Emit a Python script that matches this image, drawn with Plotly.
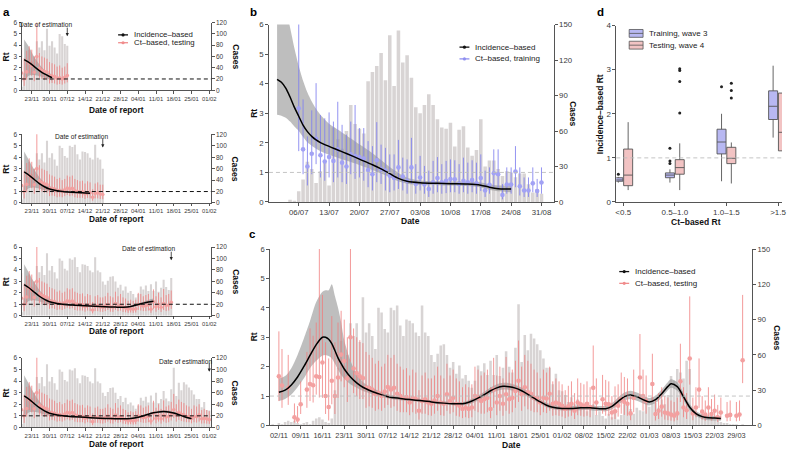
import numpy as np
import pandas as pd
import plotly.graph_objects as go

W, H = 787, 454
FONT = "Liberation Sans, Arial, Helvetica, sans-serif"
AXC = "#2b2b2b"
TICKC = "#3a3a3a"
BAR = "#D8D4D4"
RIB = "rgba(150,150,150,0.62)"
RED_L = "rgba(240,125,125,0.78)"
RED_P = "#F3A0A0"
BLUE_L = "rgba(128,128,238,0.85)"
BLUE_P = "#A2A2F4"

# ======================= DATA =======================
# --- panel c / a : daily cases (from 2020-10-31)
c_cases_start = "2020-10-31"
c_cases = [1,
           0, 2, 1, 3, 4, 3, 4, 2, 1, 2, 3, 1, 4, 6, 7, 5, 3, 2, 6,
           30, 49, 72, 51, 60, 87, 76, 87, 71, 109, 79,
           87, 76, 65, 100, 96, 82, 79, 100, 98, 102, 85, 76, 90, 89, 87, 79, 76, 102, 79, 76,
           60, 54, 61, 68, 69, 60, 49, 54, 44, 51, 40,
           43, 38, 32, 38, 51, 46, 53, 43, 55, 43, 60, 42, 49, 63, 50, 45, 66, 103, 54, 77,
           64, 78, 74, 69, 64, 57, 49, 49, 35, 44, 30,
           29, 26, 20, 24, 18, 22, 19, 15, 12, 16, 18, 9, 12, 8, 6, 10, 7, 12, 5, 9,
           18, 20, 14, 10, 15, 13, 12, 20,
           16, 24, 19, 15, 22, 18, 26, 42, 38, 48, 45, 40, 55, 48, 12, 10, 8, 9, 7, 6,
           8, 5, 4, 3, 2, 2, 1, 1, 1, 0, 1]

# --- panel c / a : Ct-based Rt, testing (daily from 2020-11-02)
c_ct_start = "2020-11-02"
c_ct_rt = [1.67, 1.36, None, 1.28, None, 0.28, 0.2, 0.72, None, 1.22,
           1.41, 1.37, 1.67, 1.65, 2.14, 1.0, 0.63, 1.52, 1.0, 1.63,
           2.41, 2.19, 1.6, 3.0, 1.94, 1.78, 1.67, 1.61, 1.28, 1.28,
           1.22, 1.06, 1.11, 1.0, 1.15, 1.31, 1.22, 1.28, 1.08, 1.0,
           0.94, 0.97, 0.78, 0.94, 0.9, 0.5, 0.83, 0.89, 0.78, 0.74,
           0.85, 1.0, 0.78, 0.74, 1.06, 0.83, 0.94, 0.74, 0.67, 0.56,
           0.61, 0.56, 0.61, 1.0, 0.94, 0.83, 0.89, 0.94, 0.56, 1.22,
           0.78, 1.0, 0.74, 1.06, 0.89, 0.94, 1.17, 1.52, 1.06, 1.3,
           1.14, 1.08, 0.94, 0.94, 0.78, 0.94, 0.92, 1.08, 0.74, 0.78,
           0.74, 0.67, 0.56, 0.65, 0.74, 0.5, 0.78, 0.72, 0.67, 0.74,
           0.63, 1.28, 0.78, None, 0.89, 0.74, 0.72, 0.44, 0.48, 0.67,
           0.89, 0.8, 0.74, 0.41, 0.94, None, 1.63, 1.0, 0.83, None,
           1.41, 0.39, 0.5, 0.64, 0.44, 0.41, 0.37, 0.33, 0.41, 1.5,
           0.61, 0.52, 2.28, 0.41, 0.61, 1.22, 0.47, 0.37, 0.61, 0.39,
           0.5, 0.28, 0.44, None, 0.33, 0.36, None, 0.33, 0.37, 2.22]
c_ct_lo = [0.83, 0.6, None, 0.7, None, 0.1, 0.08, 0.39, None, 0.6,
           0.83, 0.78, 1.05, 0.95, 0.94, 0.39, 0.17, 0.72, 0.39, 0.94,
           1.5, 1.3, 0.8, 2.17, 1.1, 1.0, 0.9, 0.9, 0.6, 0.65,
           0.6, 0.5, 0.55, 0.5, 0.6, 0.7, 0.6, 0.65, 0.5, 0.45,
           0.45, 0.45, 0.35, 0.45, 0.4, 0.2, 0.4, 0.4, 0.35, 0.33,
           0.4, 0.5, 0.35, 0.33, 0.5, 0.4, 0.45, 0.33, 0.3, 0.25,
           0.28, 0.25, 0.28, 0.5, 0.45, 0.4, 0.4, 0.45, 0.25, 0.6,
           0.35, 0.5, 0.33, 0.5, 0.4, 0.45, 0.6, 0.8, 0.5, 0.65,
           0.55, 0.5, 0.45, 0.45, 0.35, 0.45, 0.42, 0.5, 0.33, 0.35,
           0.33, 0.3, 0.25, 0.3, 0.33, 0.22, 0.35, 0.33, 0.3, 0.33,
           0.28, 0.6, 0.35, None, 0.4, 0.33, 0.33, 0.2, 0.22, 0.3,
           0.4, 0.36, 0.33, 0.18, 0.45, None, 0.9, 0.5, 0.4, None,
           0.8, 0.17, 0.22, 0.3, 0.2, 0.18, 0.16, 0.14, 0.18, 0.8,
           0.28, 0.22, 1.39, 0.18, 0.28, 0.6, 0.2, 0.16, 0.28, 0.17,
           0.22, 0.12, 0.2, None, 0.14, 0.15, None, 0.14, 0.16, 1.44]
c_ct_hi = [3.2, 2.6, None, 2.4, None, 0.75, 0.66, 1.5, None, 2.5,
           3.3, 3.05, 3.5, 6.5, 4.44, 2.83, 2.28, 3.72, 2.83, 3.5,
           3.9, 3.6, 3.0, 6.5, 3.3, 3.0, 2.9, 2.8, 2.5, 2.4,
           2.3, 2.1, 2.2, 2.0, 2.1, 2.4, 2.3, 2.4, 2.1, 2.0,
           1.9, 1.95, 1.7, 1.9, 1.8, 1.2, 1.7, 1.8, 1.6, 1.6,
           1.7, 2.0, 1.7, 1.6, 2.1, 1.7, 1.9, 1.6, 1.5, 1.3,
           1.4, 1.3, 1.4, 2.0, 1.9, 1.7, 1.8, 1.9, 1.3, 2.3,
           1.7, 2.0, 1.6, 2.33, 1.8, 1.9, 2.2, 2.89, 2.0, 2.4,
           2.2, 2.1, 1.9, 1.8, 1.6, 1.9, 1.8, 2.0, 1.5, 1.6,
           1.5, 1.4, 1.2, 1.35, 1.5, 1.1, 1.6, 1.45, 1.4, 1.5,
           1.3, 2.72, 1.6, None, 1.72, 1.55, 1.5, 1.0, 1.33, 1.4,
           1.8, 1.65, 1.6, 1.0, 1.9, None, 3.11, 1.9, 1.7, None,
           2.44, 0.9, 1.1, 1.3, 1.0, 0.95, 0.85, 0.8, 0.95, 2.78,
           1.3, 1.1, 4.39, 0.95, 1.3, 2.28, 1.0, 0.85, 1.3, 0.9,
           1.05, 0.7, 0.95, None, 0.8, 0.85, None, 0.8, 0.85, 4.44]

# --- panel c : incidence-based Rt (final)
c_inc_dates = ["2020-11-02", "2020-11-04", "2020-11-06", "2020-11-08", "2020-11-10", "2020-11-12",
               "2020-11-14", "2020-11-16", "2020-11-17", "2020-11-18", "2020-11-19", "2020-11-20",
               "2020-11-21", "2020-11-22", "2020-11-23", "2020-11-25", "2020-11-27", "2020-11-29",
               "2020-12-01", "2020-12-04", "2020-12-07", "2020-12-11", "2020-12-14", "2020-12-18",
               "2020-12-21", "2020-12-25", "2020-12-28", "2020-12-31",
               "2021-01-02", "2021-01-04", "2021-01-07", "2021-01-09", "2021-01-11", "2021-01-13",
               "2021-01-15", "2021-01-17", "2021-01-19", "2021-01-21", "2021-01-23", "2021-01-25",
               "2021-01-27", "2021-01-29",
               "2021-02-01", "2021-02-04", "2021-02-07", "2021-02-10", "2021-02-13", "2021-02-15",
               "2021-02-17", "2021-02-19", "2021-02-21", "2021-02-23", "2021-02-25", "2021-02-27",
               "2021-03-01", "2021-03-03", "2021-03-05", "2021-03-07", "2021-03-08", "2021-03-10",
               "2021-03-12", "2021-03-14", "2021-03-16", "2021-03-18", "2021-03-20", "2021-03-22",
               "2021-03-24"]
c_inc_rt = [1.13, 1.2, 1.38, 1.65, 2.0, 2.38, 2.75, 3.0, 3.0, 2.93, 2.78, 2.55, 2.3, 2.1, 1.92, 1.65, 1.45, 1.3,
            1.2, 1.08, 0.98, 0.92, 0.88, 0.84, 0.8, 0.76, 0.74, 0.74,
            0.79, 0.88, 1.05, 1.18, 1.28, 1.33, 1.32, 1.27, 1.18, 1.06, 0.93, 0.8, 0.69, 0.62,
            0.58, 0.58, 0.6, 0.6, 0.57, 0.57, 0.65, 0.82, 0.98, 1.04, 0.98, 0.88,
            0.8, 0.88, 1.08, 1.33, 1.42, 1.32, 0.98, 0.62, 0.4, 0.3, 0.26, 0.25, 0.24]
c_inc_lo = [0.83, 0.9, 1.05, 1.3, 1.6, 1.95, 2.2, 2.38, 2.4, 2.36, 2.28, 2.1, 1.9, 1.72, 1.6, 1.4, 1.28, 1.17,
            1.1, 1.0, 0.92, 0.86, 0.83, 0.79, 0.75, 0.71, 0.69, 0.68,
            0.72, 0.8, 0.96, 1.08, 1.17, 1.22, 1.21, 1.16, 1.08, 0.97, 0.85, 0.73, 0.62, 0.55,
            0.51, 0.51, 0.52, 0.52, 0.49, 0.48, 0.55, 0.7, 0.85, 0.9, 0.84, 0.75,
            0.68, 0.76, 0.95, 1.2, 1.28, 1.18, 0.86, 0.52, 0.32, 0.22, 0.18, 0.17, 0.16]
c_inc_hi = [1.6, 1.68, 1.95, 2.4, 2.95, 3.55, 4.2, 4.55, 4.6, 4.6, 4.8, 4.4, 4.0, 3.5, 2.9, 2.2, 1.75, 1.48,
            1.33, 1.18, 1.06, 0.98, 0.94, 0.9, 0.86, 0.82, 0.8, 0.8,
            0.86, 0.96, 1.15, 1.29, 1.4, 1.45, 1.44, 1.38, 1.29, 1.16, 1.02, 0.88, 0.77, 0.7,
            0.66, 0.66, 0.68, 0.68, 0.66, 0.67, 0.76, 0.95, 1.12, 1.18, 1.12, 1.02,
            0.93, 1.01, 1.22, 1.48, 1.57, 1.47, 1.11, 0.73, 0.49, 0.38, 0.34, 0.33, 0.32]

# --- panel a : real-time incidence-based Rt at four dates of estimation
a_est_dates = ["2020-12-07", "2020-12-21", "2021-01-17", "2021-02-01"]
a1_dates = ["2020-11-20", "2020-11-22", "2020-11-24", "2020-11-26", "2020-11-28", "2020-11-30", "2020-12-01"]
a1_rt = [2.72, 2.45, 2.1, 1.75, 1.45, 1.22, 1.12]
a1_lo = [0.9, 1.3, 1.35, 1.25, 1.1, 0.95, 0.85]
a1_hi = [4.5, 3.8, 2.95, 2.3, 1.8, 1.5, 1.42]
a2_dates = ["2020-11-20", "2020-11-22", "2020-11-24", "2020-11-26", "2020-11-28", "2020-11-30",
            "2020-12-03", "2020-12-06", "2020-12-09", "2020-12-12", "2020-12-14", "2020-12-16"]
a2_rt = [2.72, 2.42, 2.05, 1.7, 1.42, 1.22, 1.07, 0.98, 0.93, 0.9, 0.88, 0.86]
a2_lo = [0.9, 1.3, 1.35, 1.25, 1.12, 1.0, 0.93, 0.87, 0.83, 0.8, 0.77, 0.74]
a2_hi = [4.5, 3.7, 2.9, 2.25, 1.78, 1.48, 1.24, 1.11, 1.05, 1.02, 1.01, 1.0]
a3_dates = ["2020-11-20", "2020-11-22", "2020-11-24", "2020-11-26", "2020-11-28", "2020-11-30",
            "2020-12-03", "2020-12-06", "2020-12-10", "2020-12-14", "2020-12-18", "2020-12-22",
            "2020-12-26", "2020-12-29", "2021-01-01", "2021-01-04", "2021-01-06", "2021-01-08", "2021-01-10"]
a3_rt = [2.72, 2.42, 2.05, 1.7, 1.42, 1.22, 1.07, 0.98, 0.92, 0.87, 0.82, 0.78, 0.75, 0.74, 0.8, 0.98, 1.1, 1.2, 1.27]
a3_lo = [0.9, 1.3, 1.35, 1.25, 1.12, 1.0, 0.95, 0.89, 0.84, 0.8, 0.76, 0.72, 0.69, 0.68, 0.73, 0.89, 0.98, 1.04, 1.06]
a3_hi = [4.5, 3.7, 2.9, 2.25, 1.78, 1.48, 1.2, 1.08, 1.0, 0.94, 0.89, 0.85, 0.82, 0.81, 0.88, 1.08, 1.23, 1.38, 1.5]
a4_dates = ["2020-11-20", "2020-11-22", "2020-11-24", "2020-11-26", "2020-11-28", "2020-11-30",
            "2020-12-03", "2020-12-06", "2020-12-10", "2020-12-14", "2020-12-18", "2020-12-22",
            "2020-12-26", "2020-12-29", "2021-01-01", "2021-01-04", "2021-01-06", "2021-01-08",
            "2021-01-10", "2021-01-12", "2021-01-14", "2021-01-16", "2021-01-18", "2021-01-20",
            "2021-01-22", "2021-01-24", "2021-01-25"]
a4_rt = [2.72, 2.42, 2.05, 1.7, 1.42, 1.22, 1.07, 0.98, 0.92, 0.87, 0.82, 0.78, 0.75, 0.74, 0.77, 0.88, 1.0,
         1.14, 1.26, 1.34, 1.37, 1.34, 1.24, 1.1, 0.95, 0.82, 0.76]
a4_lo = [0.9, 1.3, 1.35, 1.25, 1.12, 1.0, 0.95, 0.89, 0.84, 0.8, 0.76, 0.72, 0.69, 0.68, 0.7, 0.8, 0.92,
         1.05, 1.16, 1.23, 1.26, 1.22, 1.12, 0.98, 0.83, 0.69, 0.62]
a4_hi = [4.5, 3.7, 2.9, 2.25, 1.78, 1.48, 1.2, 1.08, 1.0, 0.94, 0.89, 0.85, 0.82, 0.81, 0.84, 0.96, 1.08,
         1.23, 1.36, 1.45, 1.48, 1.46, 1.36, 1.22, 1.08, 0.96, 0.91]

# --- panel b : wave 3 (training)
b_cases_start = "2020-07-01"
b_cases = [0, 0, 0, 2, 1, 9, 19, 34, 28, 16,
           26, 33, 14, 63, 53, 45, 60, 82, 66, 62,
           58, 102, 110, 115, 126, 103, 141, 98, 145, 118,
           124, 105, 80, 75, 82, 91, 82, 70, 63, 62,
           67, 47, 61, 64, 46, 39, 44, 70, 30, 35,
           35, 28, 22, 26, 25, 21, 24, 24, 15, 8,
           11, 7]
b_ct_start = "2020-07-06"
b_ct_rt = [3.17, 1.78, 1.2, 1.63, 2.14, 1.58, 1.37, 1.52, 1.39, 1.78,
           1.33, 1.2, 1.61, 1.55, 1.52, 1.47, 1.08, 0.94, 1.41, 1.11,
           1.06, 0.89, 0.81, 1.17, 0.86, 0.72, 1.17, 0.61, 0.83, 0.59,
           0.44, 0.67, 0.81, 0.67, 0.72, 0.78, 0.77, 0.61, 0.72, 0.67,
           0.74, 0.63, 0.81, 0.39, 0.58, 0.97, 0.94, 0.24, 0.59, 0.59,
           1.03, 0.53, 0.39, 0.39, 0.63, 0.37, 0.66]
b_ct_lo = [1.72, 0.94, 0.56, 0.94, 1.28, 0.83, 0.72, 0.83, 0.67, 0.83,
           0.67, 0.61, 0.94, 0.78, 0.83, 0.72, 0.5, 0.39, 0.67, 0.61,
           0.39, 0.33, 0.39, 0.44, 0.39, 0.28, 0.61, 0.28, 0.39, 0.28,
           0.17, 0.28, 0.33, 0.28, 0.3, 0.33, 0.33, 0.28, 0.33, 0.28,
           0.33, 0.28, 0.37, 0.17, 0.28, 0.5, 0.44, 0.09, 0.28, 0.28,
           0.5, 0.22, 0.17, 0.17, 0.33, 0.17, 0.28]
b_ct_hi = [6.5, 3.47, 2.22, 3.1, 4.02, 2.94, 2.83, 3.03, 2.72, 3.39,
           2.61, 2.28, 2.72, 3.28, 2.5, 2.5, 2.06, 1.89, 2.7, 1.94,
           1.83, 1.61, 1.61, 2.1, 1.5, 1.44, 2.17, 1.28, 1.56, 1.22,
           1.06, 1.39, 1.52, 1.28, 1.39, 1.44, 1.41, 1.28, 1.5, 1.33,
           1.41, 1.33, 1.61, 1.06, 1.17, 1.78, 1.78, 0.61, 1.17, 1.17,
           1.89, 1.17, 0.83, 0.83, 1.17, 0.78, 1.17]
b_inc_dates = ["2020-07-01", "2020-07-02", "2020-07-03", "2020-07-04", "2020-07-05", "2020-07-06",
               "2020-07-07", "2020-07-08", "2020-07-09", "2020-07-10", "2020-07-11", "2020-07-13",
               "2020-07-15", "2020-07-17", "2020-07-20", "2020-07-23", "2020-07-25", "2020-07-27",
               "2020-07-29", "2020-07-31", "2020-08-03", "2020-08-07", "2020-08-10", "2020-08-14",
               "2020-08-17", "2020-08-19", "2020-08-21", "2020-08-23", "2020-08-24"]
b_inc_rt = [4.15, 4.05, 3.85, 3.55, 3.2, 2.9, 2.6, 2.38, 2.22, 2.1, 2.01, 1.88, 1.76, 1.64, 1.45,
            1.26, 1.12, 0.96, 0.8, 0.7, 0.65, 0.63, 0.62, 0.61, 0.57, 0.5, 0.45, 0.44, 0.44]
b_inc_lo = [2.95, 2.92, 2.85, 2.72, 2.55, 2.4, 2.2, 2.02, 1.9, 1.8, 1.72, 1.6, 1.5, 1.4, 1.25,
            1.08, 0.96, 0.84, 0.7, 0.62, 0.58, 0.57, 0.56, 0.54, 0.49, 0.41, 0.36, 0.34, 0.33]
b_inc_hi = [7.0, 6.9, 6.5, 5.9, 5.2, 4.6, 4.1, 3.7, 3.4, 3.15, 2.95, 2.65, 2.45, 2.25, 1.95,
            1.65, 1.42, 1.18, 0.98, 0.82, 0.73, 0.7, 0.69, 0.69, 0.66, 0.6, 0.56, 0.56, 0.57]

# --- panel d : boxplots (sample points per box; only those outside the whiskers are drawn)
d_categories = ["<0.5", "0.5–1.0", "1.0–1.5", ">1.5"]
d_train_q1 = [0.47, 0.55, 1.09, 1.87]
d_train_med = [0.50, 0.61, 1.36, 2.17]
d_train_q3 = [0.55, 0.66, 1.65, 2.52]
d_train_lo = [0.44, 0.44, 0.47, 1.46]
d_train_hi = [0.57, 0.74, 2.0, 3.09]
d_train_pts = [[0.50, 0.63], [0.61, 0.87, 0.93, 1.22], [1.36, 2.61], [2.17]]
d_test_q1 = [0.37, 0.63, 0.87, 1.16]
d_test_med = [0.61, 0.78, 0.99, 1.58]
d_test_q3 = [1.2, 0.96, 1.24, 2.47]
d_test_lo = [0.27, 0.27, 0.42, 0.72]
d_test_hi = [1.81, 1.33, 1.35, 2.95]
d_test_pts = [[0.61], [0.78, 2.02, 2.73, 2.98, 3.02], [0.99, 2.36, 2.53, 2.69], [1.58]]


# ======================= HELPERS =======================
def px(v):
    return v / W


def py(v):
    return 1 - v / H


def xname(n):
    return "x" if n == 1 else f"x{n}"


def yname(n):
    return "y" if n == 1 else f"y{n}"


def xkey(n):
    return "xaxis" if n == 1 else f"xaxis{n}"


def ykey(n):
    return "yaxis" if n == 1 else f"yaxis{n}"


def axstyle(fs, tl=3):
    return dict(showline=True, linecolor=AXC, linewidth=0.8, ticks="outside", ticklen=tl,
                tickwidth=0.8, tickcolor=AXC, tickangle=0,
                tickfont=dict(size=fs, color=TICKC, family=FONT),
                showgrid=False, zeroline=False, fixedrange=True)


fig = go.Figure()
layout_axes = {}
shapes = []
annots = []

c_case_dates = pd.date_range(c_cases_start, periods=len(c_cases), freq="D")
c_ct_dates = pd.date_range(c_ct_start, periods=len(c_ct_rt), freq="D")
b_case_dates = pd.date_range(b_cases_start, periods=len(b_cases), freq="D")
b_ct_dates = pd.date_range(b_ct_start, periods=len(b_ct_rt), freq="D")


def add_time_panel(xn, ycn, yrn, dom_x, dom_y, xrange, tick0, tfs, xfs, tl, cmax, cdtick,
                   case_x, case_y, inc_x, inc_rt, inc_lo, inc_hi,
                   ct_x, ct_rt, ct_lo, ct_hi, ct_line, ct_pt, ct_size,
                   ref_color, ref_width):
    xa, yc, yr = xname(xn), yname(ycn), yname(yrn)
    layout_axes[xkey(xn)] = dict(type="date", domain=[px(dom_x[0]), px(dom_x[1])], range=xrange,
                                 anchor=yc, tick0=tick0, dtick=7 * 86400000, tickformat="%d/%m",
                                 **axstyle(xfs, tl))
    layout_axes[ykey(ycn)] = dict(domain=[py(dom_y[1]), py(dom_y[0])], range=[0, cmax], dtick=cdtick,
                                  side="right", anchor=xa, **axstyle(tfs, tl))
    layout_axes[ykey(yrn)] = dict(range=[0, 6], dtick=1, side="left", overlaying=yc, anchor=xa,
                                  **axstyle(tfs, tl))
    fig.add_trace(go.Bar(x=list(case_x), y=list(case_y), marker=dict(color=BAR, line=dict(width=0)),
                         xaxis=xa, yaxis=yc, showlegend=False, hoverinfo="skip"))
    fig.add_trace(go.Scatter(x=inc_x, y=inc_lo, mode="lines",
                             line=dict(width=0, shape="spline", smoothing=0.8),
                             xaxis=xa, yaxis=yr, showlegend=False, hoverinfo="skip"))
    fig.add_trace(go.Scatter(x=inc_x, y=inc_hi, mode="lines",
                             line=dict(width=0, shape="spline", smoothing=0.8),
                             fill="tonexty", fillcolor=RIB,
                             xaxis=xa, yaxis=yr, showlegend=False, hoverinfo="skip"))
    rt = np.array(ct_rt, dtype=float)
    lo = np.array(ct_lo, dtype=float)
    hi = np.array(ct_hi, dtype=float)
    fig.add_trace(go.Scatter(x=list(ct_x), y=rt, mode="markers",
                             marker=dict(color=ct_pt, size=ct_size, line=dict(width=0)),
                             error_y=dict(type="data", symmetric=False, array=hi - rt, arrayminus=rt - lo,
                                          color=ct_line, thickness=1.0, width=0),
                             xaxis=xa, yaxis=yr, showlegend=False, hoverinfo="skip"))
    fig.add_trace(go.Scatter(x=inc_x, y=inc_rt, mode="lines",
                             line=dict(color="black", width=1.5, shape="spline", smoothing=0.8),
                             xaxis=xa, yaxis=yr, showlegend=False, hoverinfo="skip"))
    shapes.append(dict(type="line", xref=f"{xa} domain", x0=0, x1=1, yref=yr, y0=1, y1=1,
                       line=dict(color=ref_color, width=ref_width, dash="4px,3px"), layer="above"))


def txt(x, y, s, size, bold=False, angle=0, xanchor="center", color="#111"):
    annots.append(dict(xref="paper", yref="paper", x=px(x), y=py(y), text=f"<b>{s}</b>" if bold else s,
                       showarrow=False, textangle=angle, xanchor=xanchor, yanchor="middle",
                       font=dict(family=FONT, size=size, color=color)))


def legend_line(x0, y, color, label, fs, lw=1.3, dot=3.2, seg=10):
    shapes.append(dict(type="line", xref="paper", yref="paper", x0=px(x0), x1=px(x0 + seg),
                       y0=py(y), y1=py(y), line=dict(color=color, width=lw)))
    c = x0 + seg / 2
    shapes.append(dict(type="circle", xref="paper", yref="paper", x0=px(c - dot / 2), x1=px(c + dot / 2),
                       y0=py(y + dot / 2), y1=py(y - dot / 2), fillcolor=color, line=dict(width=0)))
    txt(x0 + seg + 4, y, label, fs, xanchor="left", color="#222")


# ---- panel a ----
a_sets = [(a1_dates, a1_rt, a1_lo, a1_hi), (a2_dates, a2_rt, a2_lo, a2_hi),
          (a3_dates, a3_rt, a3_lo, a3_hi), (a4_dates, a4_rt, a4_lo, a4_hi)]
a_tops = [19, 133, 248, 361]
a_bots = [88, 203, 318, 432]
a_title_y = [108, 219, 334, 449]
a_est_label_shift = [7, 7, 6, 5]
a_est_label_y = [5.8, 5.85, 5.85, 5.7]
a_est_arrow_y = [4.8, 4.85, 4.85, 4.8]
for i in range(4):
    est = pd.Timestamp(a_est_dates[i])
    cm = c_case_dates <= est
    tm = c_ct_dates <= est
    d_, r_, l_, h_ = a_sets[i]
    add_time_panel(i + 1, 2 * i + 1, 2 * i + 2, (21, 212), (a_tops[i], a_bots[i]),
                   ["2020-11-19 02:00", "2021-02-01 20:00"], "2020-11-23", 6.5, 5.9, 2.5, 120, 20,
                   c_case_dates[cm], np.array(c_cases)[cm], d_, r_, l_, h_,
                   c_ct_dates[tm], np.array(c_ct_rt, dtype=float)[tm],
                   np.array(c_ct_lo, dtype=float)[tm], np.array(c_ct_hi, dtype=float)[tm],
                   RED_L, RED_P, 3.6, "#111", 1.0)
    xa, yr = xname(i + 1), yname(2 * i + 2)
    annots.append(dict(xref=xa, yref=yr, x=a_est_dates[i], y=a_est_arrow_y[i], ax=0, ay=-10, text="",
                       showarrow=True, arrowhead=2, arrowsize=0.8, arrowwidth=0.8, arrowcolor="#222"))
    annots.append(dict(xref=xa, yref=yr, x=a_est_dates[i], y=a_est_label_y[i], text="Date of estimation",
                       showarrow=False, xanchor="right", yanchor="middle", xshift=a_est_label_shift[i],
                       font=dict(family=FONT, size=6.6, color="#222")))
    ymid = (a_tops[i] + a_bots[i]) / 2
    txt(5, ymid, "Rt", 8.5, bold=True, angle=-90)
    txt(236, ymid, "Cases", 8.5, bold=True, angle=90)
    txt(116, a_title_y[i], "Date of report", 8.3, bold=True)

legend_line(118, 31.5, "#111", "Incidence–based", 7.8)
legend_line(118, 39.5, "#F08C8C", "Ct–based, testing", 7.8)

# ---- panel b ----
add_time_panel(5, 9, 10, (270, 557), (21, 202), ["2020-06-29 03:00", "2020-09-02 20:00"], "2020-07-06",
               7.8, 7.8, 3, 150, 30, b_case_dates, b_cases, b_inc_dates, b_inc_rt, b_inc_lo, b_inc_hi,
               b_ct_dates, b_ct_rt, b_ct_lo, b_ct_hi, BLUE_L, BLUE_P, 4.6, "#BDBDBD", 0.9)
txt(255, 112, "Rt", 8.5, bold=True, angle=-90)
txt(577, 112, "Cases", 8.5, bold=True, angle=90)
txt(413, 221, "Date", 8.5, bold=True)
legend_line(462, 44, "#111", "Incidence–based", 8)
legend_line(462, 56, "#8F8FF0", "Ct–based, training", 8)

# ---- panel c ----
add_time_panel(6, 11, 12, (271, 757), (250, 430), ["2020-10-30 03:00", "2021-04-03 02:00"], "2020-11-02",
               7.6, 7.4, 3, 150, 30, c_case_dates, c_cases, c_inc_dates, c_inc_rt, c_inc_lo, c_inc_hi,
               c_ct_dates, c_ct_rt, c_ct_lo, c_ct_hi, RED_L, RED_P, 4.6, "#BDBDBD", 0.9)
txt(255, 340, "Rt", 8.5, bold=True, angle=-90)
txt(782, 340, "Cases", 8.5, bold=True, angle=90)
txt(514, 450, "Date", 8.5, bold=True)
legend_line(623, 273, "#111", "Incidence–based", 8)
legend_line(623, 285, "#F08C8C", "Ct–based, testing", 8)

# ---- panel d ----
layout_axes[xkey(7)] = dict(type="category", categoryorder="array", categoryarray=d_categories,
                            domain=[px(620), px(787)], range=[-0.135, 3.077], anchor="y13", **axstyle(8))
layout_axes[ykey(13)] = dict(domain=[py(202), py(22)], range=[0, 4], dtick=1, anchor="x7", **axstyle(8))
for nm, q1, med, q3, lf, uf, pts, fc in [
        ("Training, wave 3", d_train_q1, d_train_med, d_train_q3, d_train_lo, d_train_hi, d_train_pts, "#B8B8F2"),
        ("Testing, wave 4", d_test_q1, d_test_med, d_test_q3, d_test_lo, d_test_hi, d_test_pts, "#F2C3C3")]:
    fig.add_trace(go.Box(x=d_categories, q1=q1, median=med, q3=q3, lowerfence=lf, upperfence=uf, y=pts,
                         boxpoints="outliers", jitter=0, pointpos=0, whiskerwidth=0,
                         fillcolor=fc, line=dict(color="#555555", width=0.9),
                         marker=dict(color="#222222", size=3), name=nm, offsetgroup=nm,
                         xaxis="x7", yaxis="y13", showlegend=False, hoverinfo="skip"))
shapes.append(dict(type="line", xref="x7 domain", x0=0, x1=1, yref="y13", y0=1, y1=1,
                   line=dict(color="#BDBDBD", width=0.9, dash="4px,3px"), layer="above"))
txt(603, 112, "Incidence–based Rt", 8.5, bold=True, angle=-90)
txt(700, 222, "Ct–based Rt", 8.5, bold=True)
for yy, fc, lab in [(30, "#B8B8F2", "Training, wave 3"), (42, "#F2C3C3", "Testing, wave 4")]:
    shapes.append(dict(type="rect", xref="paper", yref="paper", x0=px(633), x1=px(647),
                       y0=py(yy + 4), y1=py(yy - 4), fillcolor=fc, line=dict(color="#555", width=0.8)))
    shapes.append(dict(type="line", xref="paper", yref="paper", x0=px(633), x1=px(647),
                       y0=py(yy), y1=py(yy), line=dict(color="#555", width=0.8)))
    txt(651, yy, lab, 8, xanchor="left", color="#222")

# ---- panel letters ----
txt(6, 8, "a", 11.5, bold=True, color="#000")
txt(254, 8, "b", 11.5, bold=True, color="#000")
txt(253, 235, "c", 11.5, bold=True, color="#000")
txt(604, 8, "d", 11.5, bold=True, color="#000")

fig.update_layout(width=W, height=H, autosize=False, margin=dict(l=0, r=0, t=0, b=0),
                  paper_bgcolor="white", plot_bgcolor="rgba(0,0,0,0)",
                  font=dict(family=FONT, color="#222"), showlegend=False,
                  bargap=0.18, boxmode="group", boxgap=0.62, boxgroupgap=0.08,
                  shapes=shapes, annotations=annots, **layout_axes)

fig.write_html("out.html", config={"displayModeBar": False, "staticPlot": True},
               post_script="document.body.style.margin='0';")
